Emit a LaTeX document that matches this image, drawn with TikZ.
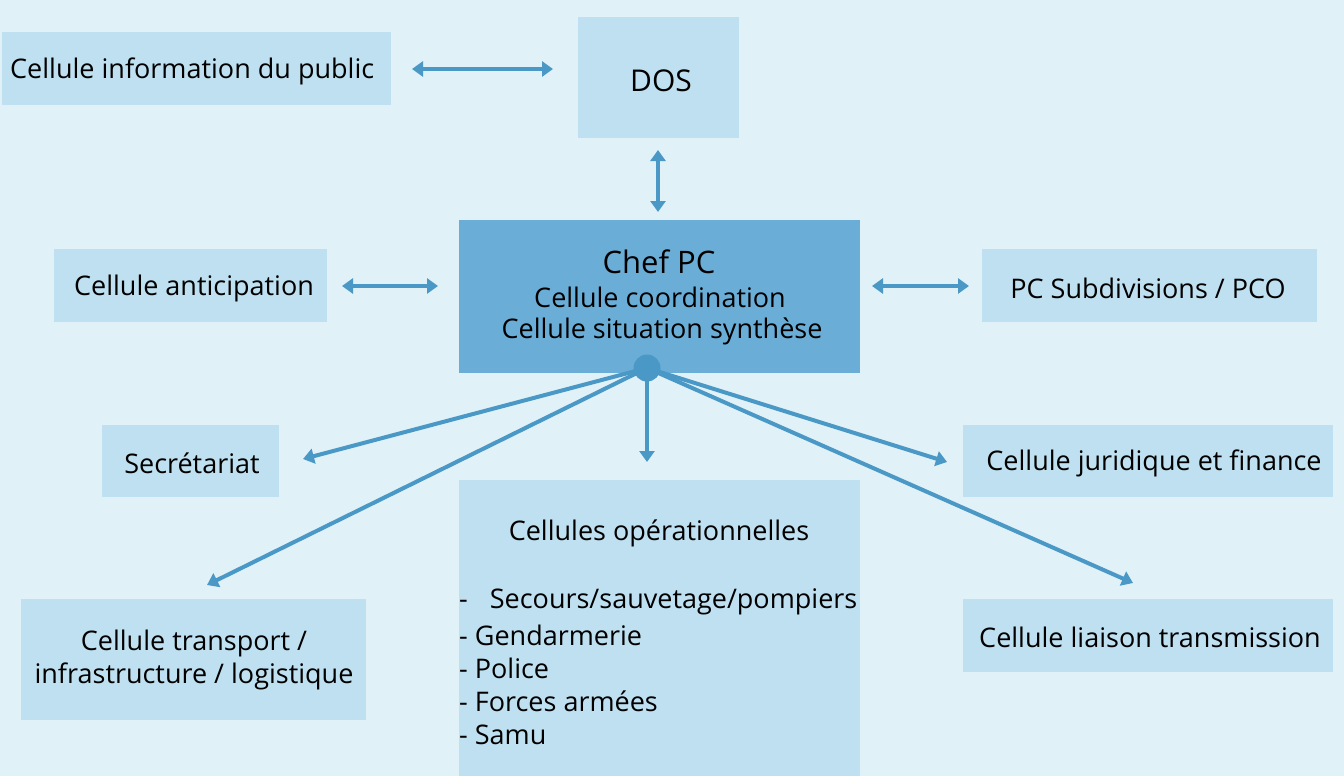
\documentclass[tikz,border=0pt]{standalone}
\usepackage{fontspec}
\setmainfont{Open Sans}
\usetikzlibrary{arrows.meta}
\definecolor{bg}{HTML}{E1F1F8}
\definecolor{boxfill}{HTML}{BEE0F0}
\definecolor{chef}{HTML}{6AAED8}
\definecolor{arr}{HTML}{4A98C6}
\tikzset{
  box/.style={fill=boxfill, draw=none, inner sep=0pt, font=\fontsize{27}{33}\selectfont, align=center},
  conn/.style={draw=arr, line width=4pt, -{Triangle[width=15pt,length=11pt]}},
  biconn/.style={draw=arr, line width=4pt, {Triangle[width=15pt,length=11pt]}-{Triangle[width=15pt,length=11pt]}},
  lbl/.style={font=\fontsize{27}{33}\selectfont, inner sep=0pt}
}
\begin{document}
\begin{tikzpicture}[x=1pt,y=-1pt]
\fill[bg] (0,0) rectangle (1344,776);
\useasboundingbox (0,0) rectangle (1344,776);
% boxes
\node[box, minimum width=389pt, minimum height=73pt] (info) at (196.5,68.5) {};
\node[lbl, anchor=west] (infot) at (10,71) {Cellule information du public};
\node[box, minimum width=161pt, minimum height=121pt] (dos) at (658.5,77.5) {};
\node[lbl, font=\fontsize{30}{33}\selectfont] (dost) at (661,81) {DOS};
\node[box, fill=chef, minimum width=401pt, minimum height=153pt] (chef) at (659.5,296.5) {};
\node[lbl, font=\fontsize{31}{33}\selectfont] (chef1) at (659,262) {Chef PC};
\node[lbl] (chef2) at (660,297) {Cellule coordination};
\node[lbl] (chef3) at (662,331) {Cellule situation synthèse};
\node[box, minimum width=273pt, minimum height=73pt] (antic) at (190.5,285.5) {};
\node[lbl] (antict) at (194,288) {Cellule anticipation};
\node[box, minimum width=335pt, minimum height=73pt] (pcsub) at (1149.5,285.5) {};
\node[lbl] (pcsubt) at (1148,288) {PC Subdivisions / PCO};
\node[box, minimum width=177pt, minimum height=72pt] (secr) at (190.5,461) {};
\node[lbl] (secrt) at (192,463) {Secrétariat};
\node[box, minimum width=370pt, minimum height=72pt] (jur) at (1148,461) {};
\node[lbl] (jurt) at (1154,463) {Cellule juridique et finance};
\node[box, minimum width=345pt, minimum height=121pt] (transp) at (193.5,659.5) {};
\node[lbl, align=center] (transpt) at (194,660) {Cellule transport /\\infrastructure / logistique};
\node[box, minimum width=370pt, minimum height=73pt] (liais) at (1148,635.5) {};
\node[lbl] (liaist) at (1150,637) {Cellule liaison transmission};
\node[box, minimum width=401pt, minimum height=296pt] (ops) at (659.5,628) {};
\node[lbl] (opst) at (659,533) {Cellules opérationnelles};
\node[lbl, anchor=west] (op1) at (459,602) {-\hspace{22pt}Secours/sauvetage/pompiers};
\node[lbl, anchor=west] (op2) at (459,635) {- Gendarmerie};
\node[lbl, anchor=west] (op3) at (459,668) {- Police};
\node[lbl, anchor=west] (op4) at (459,701) {- Forces armées};
\node[lbl, anchor=west] (op5) at (459,735) {- Samu};
% connectors
\coordinate (a1) at (412,69); \coordinate (a2) at (553,69);
\draw[biconn] (a1) -- (a2);
\coordinate (b1) at (658,150); \coordinate (b2) at (658,212);
\draw[biconn] (b1) -- (b2);
\coordinate (c1) at (342,286); \coordinate (c2) at (438,286);
\draw[biconn] (c1) -- (c2);
\coordinate (d1) at (872,286); \coordinate (d2) at (969,286);
\draw[biconn] (d1) -- (d2);
\coordinate (hub) at (647,368);
\coordinate (e1) at (647,462);
\coordinate (e2) at (303,459);
\coordinate (e3) at (207,585);
\coordinate (e4) at (947,462);
\coordinate (e5) at (1133,583);
\draw[conn] (hub) -- (e1);
\draw[conn] (hub) -- (e2);
\draw[conn] (hub) -- (e3);
\draw[conn] (hub) -- (e4);
\draw[conn] (hub) -- (e5);
\fill[arr] (hub) circle (13.5pt);
\end{tikzpicture}
\end{document}
